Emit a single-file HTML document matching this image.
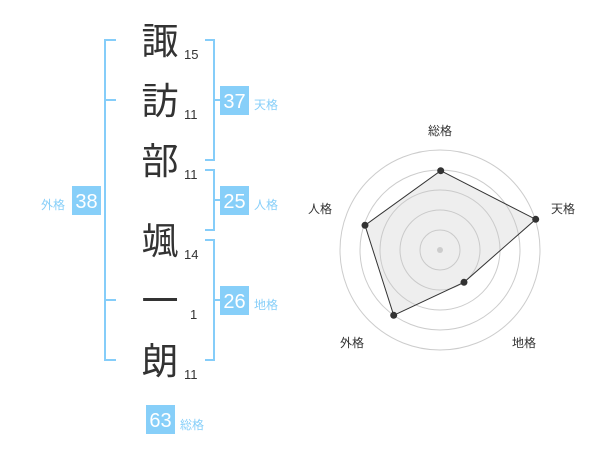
<!DOCTYPE html>
<html><head><meta charset="utf-8"><style>
html,body{margin:0;padding:0;background:#fff;width:600px;height:470px;overflow:hidden}
svg{display:block}
text{font-family:"Liberation Sans","Noto Sans CJK JP",sans-serif}
</style></head><body>
<svg width="600" height="470" viewBox="0 0 600 470">
<g stroke="#85cdf9" stroke-width="2" fill="none">
<polyline points="116,40 105,40 105,360 116,360"/>
<line x1="105" y1="100" x2="116" y2="100"/>
<line x1="105" y1="300" x2="116" y2="300"/>
<polyline points="205,40 214,40 214,160 205,160"/>
<line x1="214" y1="100" x2="220" y2="100"/>
<polyline points="205,170 214,170 214,230 205,230"/>
<line x1="214" y1="200" x2="220" y2="200"/>
<polyline points="205,240 214,240 214,360 205,360"/>
<line x1="214" y1="300" x2="220" y2="300"/>
</g>
<g fill="#87cff9">
<rect x="220" y="86" width="29" height="29"/>
<rect x="220" y="186" width="29" height="29"/>
<rect x="220" y="286" width="29" height="29"/>
<rect x="72" y="186" width="29" height="29"/>
<rect x="146" y="405" width="29" height="29"/>
</g>
<g fill="#fff" font-size="20" text-anchor="middle">
<text x="234.5" y="108">37</text>
<text x="234.5" y="208">25</text>
<text x="234.5" y="308">26</text>
<text x="86.5" y="208">38</text>
<text x="160.5" y="427">63</text>
</g>
<g fill="#87cff9" font-size="12">
<text x="254" y="109">天格</text>
<text x="254" y="209">人格</text>
<text x="254" y="309">地格</text>
<text x="41" y="209">外格</text>
<text x="180" y="429">総格</text>
</g>
<g fill="#333" font-size="37" text-anchor="middle">
<text x="160" y="54">諏</text>
<text x="160" y="114">訪</text>
<text x="160" y="174">部</text>
<text x="160" y="254">颯</text>
<text x="160" y="314">一</text>
<text x="160" y="374">朗</text>
</g>
<g fill="#333" font-size="13">
<text x="184" y="59">15</text>
<text x="184" y="119">11</text>
<text x="184" y="179">11</text>
<text x="184" y="259">14</text>
<text x="190" y="319">1</text>
<text x="184" y="379">11</text>
</g>
<g fill="none" stroke="#ccc" stroke-width="1">
<circle cx="440" cy="250" r="20"/>
<circle cx="440" cy="250" r="40"/>
<circle cx="440" cy="250" r="60"/>
<circle cx="440" cy="250" r="80"/>
<circle cx="440" cy="250" r="100"/>
</g>
<polygon points="440.7,170.7 535.7,219.3 464,282.3 393.7,315.3 365,225.3" fill="rgba(200,200,200,0.3)" stroke="#333" stroke-width="1"/>
<circle cx="440" cy="250" r="3" fill="#ccc"/>
<g fill="#333">
<circle cx="440.7" cy="170.7" r="3.5"/>
<circle cx="535.7" cy="219.3" r="3.5"/>
<circle cx="464" cy="282.3" r="3.5"/>
<circle cx="393.7" cy="315.3" r="3.5"/>
<circle cx="365" cy="225.3" r="3.5"/>
</g>
<g fill="#333" font-size="12" text-anchor="middle">
<text x="440" y="135">総格</text>
<text x="563" y="213">天格</text>
<text x="524" y="347">地格</text>
<text x="352" y="347">外格</text>
<text x="320" y="213">人格</text>
</g>
</svg>
</body></html>
